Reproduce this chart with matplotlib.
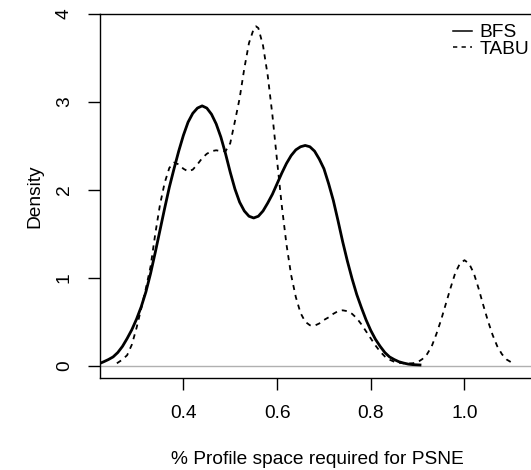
import matplotlib
matplotlib.use("Agg")
import matplotlib.pyplot as plt

plt.rcParams['font.family'] = ['Liberation Sans', 'DejaVu Sans']

# BFS density curve
bfs_x = [0.222, 0.23, 0.24, 0.25, 0.26, 0.27, 0.28, 0.29, 0.30, 0.31, 0.32, 0.33, 0.34,
         0.35, 0.36, 0.37, 0.38, 0.39, 0.40, 0.41, 0.42, 0.43, 0.44, 0.45, 0.46, 0.47,
         0.48, 0.49, 0.50, 0.51, 0.52, 0.53, 0.54, 0.55, 0.56, 0.57, 0.58, 0.59, 0.60,
         0.61, 0.62, 0.63, 0.64, 0.65, 0.66, 0.67, 0.68, 0.69, 0.70, 0.71, 0.72, 0.73,
         0.74, 0.75, 0.76, 0.77, 0.78, 0.79, 0.80, 0.81, 0.82, 0.83, 0.84, 0.85, 0.86,
         0.87, 0.88, 0.89, 0.905]
bfs_y = [0.027, 0.045, 0.07, 0.10, 0.15, 0.22, 0.31, 0.41, 0.53, 0.67, 0.84, 1.05, 1.29,
         1.54, 1.79, 2.03, 2.24, 2.44, 2.62, 2.77, 2.87, 2.93, 2.955, 2.93, 2.86, 2.75,
         2.60, 2.41, 2.20, 2.01, 1.86, 1.76, 1.70, 1.68, 1.70, 1.76, 1.85, 1.95, 2.07,
         2.19, 2.30, 2.39, 2.455, 2.49, 2.505, 2.49, 2.44, 2.35, 2.24, 2.07, 1.88, 1.65,
         1.41, 1.19, 0.99, 0.81, 0.66, 0.52, 0.40, 0.30, 0.22, 0.15, 0.10, 0.07, 0.045,
         0.03, 0.018, 0.012, 0.008]

# TABU density curve
tabu_x = [0.258, 0.27, 0.28, 0.29, 0.30, 0.31, 0.32, 0.33, 0.34, 0.35, 0.36, 0.37, 0.38,
          0.39, 0.40, 0.41, 0.42, 0.43, 0.44, 0.45, 0.46, 0.47, 0.48, 0.49, 0.50, 0.51,
          0.52, 0.53, 0.54, 0.55, 0.555, 0.56, 0.57, 0.58, 0.59, 0.60, 0.61, 0.62, 0.63,
          0.64, 0.65, 0.66, 0.67, 0.68, 0.69, 0.70, 0.71, 0.72, 0.73, 0.74, 0.75, 0.76,
          0.77, 0.78, 0.79, 0.80, 0.81, 0.82, 0.83, 0.84, 0.85, 0.86, 0.87, 0.88, 0.89,
          0.90, 0.91, 0.92, 0.93, 0.94, 0.95, 0.96, 0.97, 0.98, 0.99, 1.00, 1.01, 1.02,
          1.03, 1.04, 1.05, 1.06, 1.07, 1.08, 1.09, 1.10, 1.105]
tabu_y = [0.027, 0.07, 0.12, 0.24, 0.43, 0.65, 0.88, 1.13, 1.50, 1.83, 2.08, 2.25, 2.31,
          2.29, 2.24, 2.21, 2.23, 2.29, 2.36, 2.41, 2.44, 2.45, 2.44, 2.44, 2.53, 2.78,
          3.04, 3.38, 3.67, 3.83, 3.86, 3.84, 3.64, 3.30, 2.85, 2.33, 1.82, 1.38, 1.03,
          0.78, 0.60, 0.50, 0.46, 0.455, 0.48, 0.52, 0.55, 0.59, 0.62, 0.63, 0.62, 0.59,
          0.54, 0.47, 0.39, 0.31, 0.23, 0.16, 0.105, 0.068, 0.045, 0.033, 0.027, 0.025, 0.028,
          0.04, 0.075, 0.13, 0.22, 0.36, 0.52, 0.70, 0.88, 1.05, 1.16, 1.20, 1.16, 1.05,
          0.88, 0.69, 0.51, 0.35, 0.22, 0.13, 0.07, 0.038, 0.027]

x_ticks = [0.4, 0.6, 0.8, 1.0]
x_tick_labels = ["0.4", "0.6", "0.8", "1.0"]
y_ticks = [0, 1, 2, 3, 4]
y_tick_labels = ["0", "1", "2", "3", "4"]

FS = 13.8
W, H = 531, 470
fig = plt.figure(figsize=(W / 100, H / 100), dpi=100)
ax = fig.add_axes([100 / W, 92 / H, 434 / W, 364 / H])

ax.axhline(0, color="#b0b0b0", lw=1.0, zorder=1)
ax.plot(bfs_x, bfs_y, color="black", lw=2.0, label="BFS", zorder=3)
ax.plot(tabu_x, tabu_y, color="black", lw=1.3, linestyle=(0, (2.8, 2.8)), label="TABU", zorder=2)

ax.set_xlim(0.222, 0.222 + 434 / 468.5)
ax.set_ylim(-0.14, 4.0)

ax.set_xticks(x_ticks)
ax.set_xticklabels(x_tick_labels)
ax.set_yticks(y_ticks)
ax.set_yticklabels(y_tick_labels, rotation=90, va="center")
ax.tick_params(axis="both", direction="out", length=8.6, width=1.0, pad=11,
               labelsize=FS, colors="black")

for s in ["left", "bottom", "top"]:
    ax.spines[s].set_linewidth(1.0)
    ax.spines[s].set_color("black")
ax.spines["right"].set_visible(False)

ax.set_xlabel("% Profile space required for PSNE", fontsize=FS, labelpad=21)
ax.set_ylabel("Density", fontsize=FS, labelpad=9)

leg = ax.legend(loc="upper left", bbox_to_anchor=((452.7 - 100) / 434, 1 - (24 - 14) / 364),
                frameon=False, fontsize=FS, handlelength=1.0, handletextpad=0.38,
                labelspacing=-0.05, borderaxespad=0, borderpad=0)
for h in leg.get_lines():
    h.set_linewidth(1.1)

fig.savefig("out.png", dpi=100)
